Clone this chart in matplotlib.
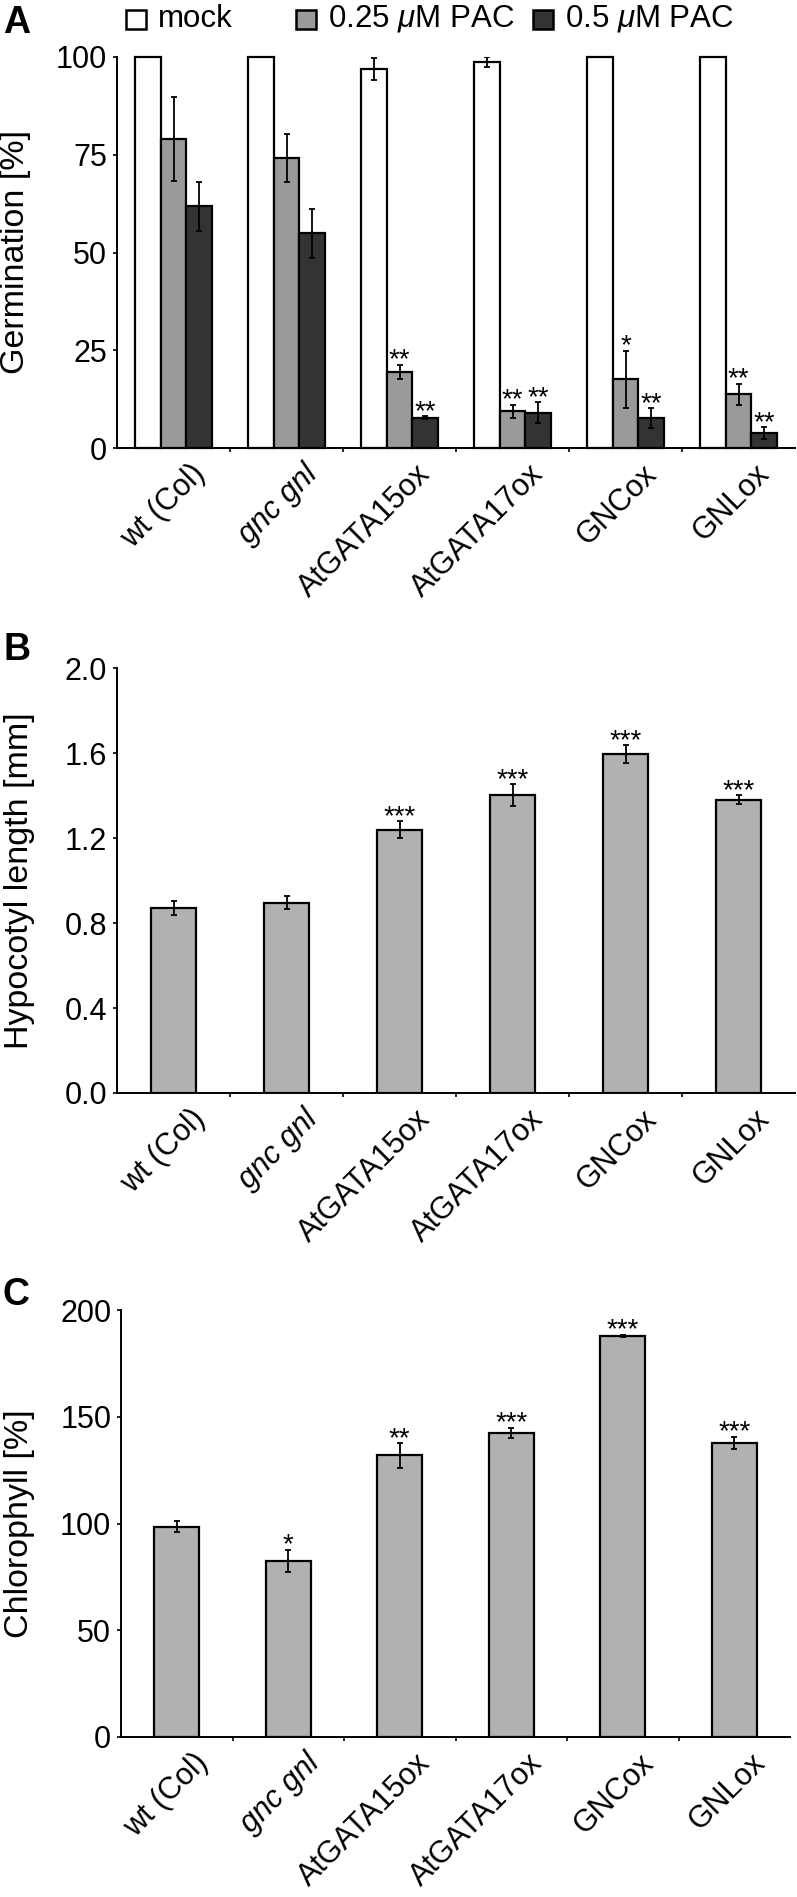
import matplotlib
matplotlib.use("Agg")
import matplotlib.pyplot as plt
from matplotlib.patches import Rectangle
from matplotlib.transforms import ScaledTranslation
import numpy as np

plt.rcParams['font.family'] = ['Liberation Sans', 'DejaVu Sans']
plt.rcParams['mathtext.fontset'] = 'custom'
plt.rcParams['mathtext.rm'] = 'Liberation Sans'
plt.rcParams['mathtext.it'] = 'Liberation Sans:italic'

# lines / genotypes
lines = ['wt (Col)', 'gnc gnl', 'AtGATA15ox', 'AtGATA17ox', 'GNCox', 'GNLox']

# A - germination [%]
mock = [100, 100, 96.9, 98.7, 100, 100]
mock_err = [0, 0, 2.8, 1.3, 0, 0]
pac025 = [79.0, 74.2, 19.5, 9.4, 17.6, 13.7]
pac025_err = [10.8, 6.2, 1.8, 1.7, 7.3, 2.7]
pac05 = [61.8, 54.9, 7.8, 9.05, 7.6, 3.8]
pac05_err = [6.2, 6.3, 0.3, 2.6, 2.6, 1.5]
pac025_sig = ['', '', '**', '**', '*', '**']
pac05_sig = ['', '', '**', '**', '**', '**']

# B - hypocotyl length [mm]
hypo = [0.872, 0.895, 1.239, 1.402, 1.594, 1.380]
hypo_err = [0.032, 0.031, 0.040, 0.050, 0.043, 0.021]
hypo_sig = ['', '', '***', '***', '***', '***']

# C - chlorophyll [%]
chl = [98.5, 82.6, 131.9, 142.5, 188.0, 137.7]
chl_err = [2.7, 5.2, 5.7, 2.4, 0.5, 3.0]
chl_sig = ['', '*', '**', '***', '***', '***']

W, H = 797, 1897
fig = plt.figure(figsize=(W / 100, H / 100), dpi=100)


def px_axes(l, r, t, b):
    return fig.add_axes([l / W, 1 - b / H, (r - l) / W, (b - t) / H])


def style(ax, ymax, yticks, ylabel, fmt):
    ax.set_xlim(0, 6)
    ax.set_ylim(0, ymax)
    for s in ['top', 'right']:
        ax.spines[s].set_visible(False)
    for s in ['left', 'bottom']:
        ax.spines[s].set_linewidth(1.4)
    ax.set_yticks(yticks)
    ax.set_yticklabels([fmt.format(v) for v in yticks])
    ax.tick_params(axis='y', length=3, width=1.2, pad=4, labelsize=22)
    x = np.arange(6) + 0.5
    ax.set_xticks(x)
    ax.set_xticklabels(lines, rotation=45, ha='right', va='top',
                       rotation_mode='anchor', fontsize=22)
    ax.tick_params(axis='x', which='major', length=0, pad=8)
    ax.set_xticks(np.arange(1, 6), minor=True)
    ax.tick_params(axis='x', which='minor', length=3, width=1.2, direction='out')
    for lab in ax.get_xticklabels():
        lab.set_transform(lab.get_transform() + ScaledTranslation(0.16, 0, fig.dpi_scale_trans))
        if lab.get_text() == 'gnc gnl':
            lab.set_style('italic')
    ax.set_ylabel(ylabel, fontsize=24.5)


def stars(ax, xs, tops, sig):
    for xi, t, s in zip(xs, tops, sig):
        if s:
            ax.annotate(s, (xi, t), xytext=(0, -2), textcoords='offset points',
                        ha='center', va='baseline', fontsize=20)


ebar = dict(fmt='none', ecolor='black', elinewidth=1.3, capsize=2.5, capthick=1.3)

# ---- A
axA = px_axes(117, 795, 57, 448)
x = np.arange(6) + 0.5
w = 0.23
series = [(mock, mock_err, 'white', None),
          (pac025, pac025_err, '#9a9a9a', pac025_sig),
          (pac05, pac05_err, '#333333', pac05_sig)]
for k, (vals, errs, col, sig) in enumerate(series):
    xs = x + (k - 1) * w
    axA.bar(xs, vals, w, color=col, edgecolor='black', linewidth=1.6, clip_on=False, zorder=2)
    e = np.array(errs)
    m = e > 0
    axA.errorbar(xs[m], np.array(vals)[m], yerr=e[m], zorder=3, **ebar)
    if sig:
        stars(axA, xs, np.array(vals) + e, sig)
style(axA, 100, [0, 25, 50, 75, 100], 'Germination [%]', '{:g}')
axA.yaxis.set_label_coords(-0.127, 0.5)

# legend row
leg = [('mock', 'white', 126, 158),
       (r'0.25 $\mu$M PAC', '#9a9a9a', 296, 328),
       (r'0.5 $\mu$M PAC', '#333333', 533, 565)]
for txt, col, bx, tx in leg:
    fig.add_artist(Rectangle((bx / W, 1 - 29 / H), 20 / W, 19 / H, transform=fig.transFigure,
                             facecolor=col, edgecolor='black', linewidth=1.8))
    fig.text(tx / W, 1 - 19 / H, txt, fontsize=22.5, va='center', ha='left')

# ---- B
axB = px_axes(117, 795, 668, 1093)
axB.bar(x, hypo, 0.40, color='#b1b1b1', edgecolor='black', linewidth=1.6, zorder=2)
axB.errorbar(x, hypo, yerr=hypo_err, zorder=3, **ebar)
stars(axB, x, np.array(hypo) + np.array(hypo_err), hypo_sig)
style(axB, 2.0, [0.0, 0.4, 0.8, 1.2, 1.6, 2.0], 'Hypocotyl length [mm]', '{:.1f}')
axB.yaxis.set_label_coords(-0.121, 0.5)

# ---- C
axC = px_axes(121, 790, 1310, 1737)
axC.bar(x, chl, 0.40, color='#b1b1b1', edgecolor='black', linewidth=1.6, zorder=2)
axC.errorbar(x, chl, yerr=chl_err, zorder=3, **ebar)
stars(axC, x, np.array(chl) + np.array(chl_err), chl_sig)
style(axC, 200, [0, 50, 100, 150, 200], 'Chlorophyll [%]', '{:g}')
axC.yaxis.set_label_coords(-0.129, 0.5)

# panel letters
for letter, base in [('A', 33), ('B', 660), ('C', 1305)]:
    fig.text(3 / W, 1 - base / H, letter, fontsize=27, fontweight='bold',
             ha='left', va='baseline')

fig.savefig('out.png', dpi=100)
